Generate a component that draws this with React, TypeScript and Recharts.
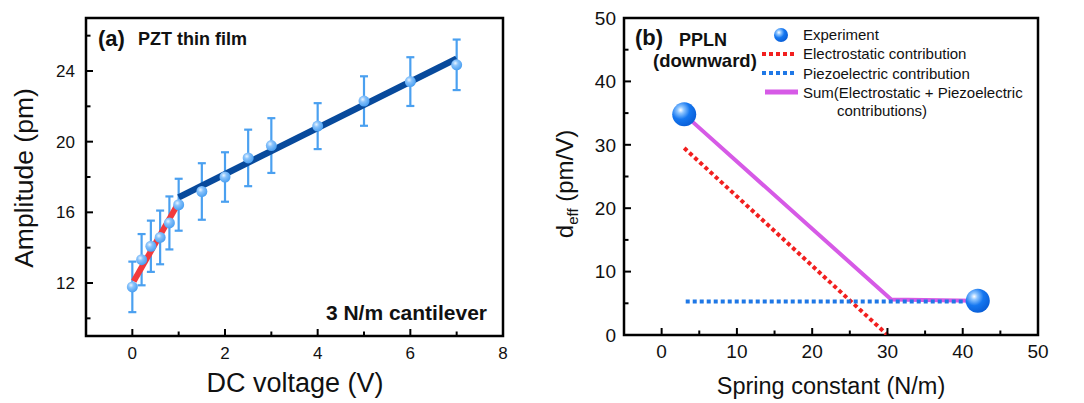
import React from 'react';
import {
  ComposedChart,
  XAxis,
  YAxis,
  Line,
  Scatter,
  ErrorBar,
  ReferenceArea,
  Legend,
} from 'recharts';

const FONT = '"Liberation Sans", Arial, Helvetica, sans-serif';

// ---------- Panel (a): PZT thin film ----------
const voltageV = [0, 0.2, 0.4, 0.6, 0.8, 1.0, 1.5, 2, 2.5, 3, 4, 5, 6, 7];
const amplitudePm = [11.78, 13.32, 14.08, 14.58, 15.4, 16.43, 17.18, 18.0, 19.08, 19.78, 20.88, 22.3, 23.4, 24.35];
const amplitudeErr = [1.43, 1.45, 1.45, 1.52, 1.5, 1.47, 1.6, 1.4, 1.6, 1.55, 1.3, 1.4, 1.38, 1.43];
const redFitV = [0.03, 1.0];
const redFitPm = [12.1, 16.55];
const blueFitV = [1.0, 7.0];
const blueFitPm = [16.85, 24.7];
const xTicksA = [0, 1, 2, 3, 4, 5, 6, 7, 8];
const yTicksA = [10, 12, 14, 16, 18, 20, 22, 24, 26];

// ---------- Panel (b): PPLN ----------
const expK = [3, 42];
const expDeff = [34.8, 5.4];
const elecK = [3, 30];
const elecDeff = [29.5, 0];
const piezoK = [3.2, 41.2];
const piezoDeff = [5.3, 5.3];
const sumK = [3, 30.5, 41.5];
const sumDeff = [34.8, 5.6, 5.4];
const xTicksB = [0, 5, 10, 15, 20, 25, 30, 35, 40, 45, 50];
const yTicksB = [0, 5, 10, 15, 20, 25, 30, 35, 40, 45, 50];

const ptsA = voltageV.map((x, i) => ({ x, y: amplitudePm[i], err: amplitudeErr[i] }));
const redA = redFitV.map((x, i) => ({ x, y: redFitPm[i] }));
const blueA = blueFitV.map((x, i) => ({ x, y: blueFitPm[i] }));
const expB = expK.map((x, i) => ({ x, y: expDeff[i] }));
const elecB = elecK.map((x, i) => ({ x, y: elecDeff[i] }));
const piezoB = piezoK.map((x, i) => ({ x, y: piezoDeff[i] }));
const sumB = sumK.map((x, i) => ({ x, y: sumDeff[i] }));

const makeXTick = (isMajor: (v: number) => boolean, fontSize: number, dy: number) => (props: any) => {
  const { x, y, payload } = props;
  const v = payload.value;
  const major = isMajor(v);
  return (
    <g>
      <line x1={x} x2={x} y1={y} y2={y - (major ? 7 : 4.5)} stroke="#000" strokeWidth={2} />
      {major && (
        <text x={x} y={y + dy} textAnchor="middle" fontSize={fontSize} fontFamily={FONT} fill="#111">
          {v}
        </text>
      )}
    </g>
  );
};

const makeYTick = (isMajor: (v: number) => boolean, fontSize: number, dx: number) => (props: any) => {
  const { x, y, payload } = props;
  const v = payload.value;
  const major = isMajor(v);
  return (
    <g>
      <line x1={x} x2={x + (major ? 7 : 4.5)} y1={y} y2={y} stroke="#000" strokeWidth={2} />
      {major && (
        <text x={x - dx} y={y} dy="0.36em" textAnchor="end" fontSize={fontSize} fontFamily={FONT} fill="#111">
          {v}
        </text>
      )}
    </g>
  );
};

const XTickA = makeXTick((v) => v % 2 === 0, 17, 23);
const YTickA = makeYTick((v) => v % 4 === 0, 17, 11);
const XTickB = makeXTick((v) => v % 10 === 0, 19, 23);
const YTickB = makeYTick((v) => v % 10 === 0, 19, 8);

const XTitleA = () => (
  <text x={295} y={392} textAnchor="middle" fontSize={27} fontFamily={FONT} fill="#111">
    DC voltage (V)
  </text>
);
const YTitleA = () => (
  <text x={33} y={178} transform="rotate(-90 33 178)" textAnchor="middle" fontSize={26.5} fontFamily={FONT} fill="#111">
    Amplitude (pm)
  </text>
);
const XTitleB = () => (
  <text x={291} y={394} textAnchor="middle" fontSize={23.5} fontFamily={FONT} fill="#111">
    Spring constant (N/m)
  </text>
);
const YTitleB = () => (
  <text x={33} y={184} transform="rotate(-90 33 184)" textAnchor="middle" fontSize={24} fontFamily={FONT} fill="#111">
    d<tspan fontSize={15} baselineShift="-30%">eff</tspan>
    <tspan> (pm/V)</tspan>
  </text>
);

const DotA = (props: any) => {
  const { cx, cy } = props;
  if (cx == null || cy == null) return null;
  return <circle cx={cx} cy={cy} r={5.5} fill="url(#gradA)" />;
};

const SphereB = (props: any) => {
  const { cx, cy } = props;
  if (cx == null || cy == null) return null;
  return <circle cx={cx} cy={cy} r={12} fill="url(#gradB)" />;
};

const LegendB = () => (
  <svg width={300} height={100} style={{ overflow: 'visible' }}>
    <defs>
      <radialGradient id="gradBLeg" cx="35%" cy="32%" r="70%">
        <stop offset="0%" stopColor="#ffffff" />
        <stop offset="22%" stopColor="#8cc4ff" />
        <stop offset="55%" stopColor="#1577f0" />
        <stop offset="100%" stopColor="#0a5fd8" />
      </radialGradient>
    </defs>
    <circle cx={21} cy={11} r={7} fill="url(#gradBLeg)" />
    <text x={43} y={16} fontSize={15} fontFamily={FONT} fill="#111">Experiment</text>
    <line x1={2} x2={37} y1={30} y2={30} stroke="#f21f1f" strokeWidth={4} strokeDasharray="4 3" />
    <text x={43} y={35} fontSize={15} fontFamily={FONT} fill="#111">Electrostatic contribution</text>
    <line x1={2} x2={37} y1={49} y2={49} stroke="#1f78e6" strokeWidth={4} strokeDasharray="4 3" />
    <text x={43} y={54.5} fontSize={15} fontFamily={FONT} fill="#111">Piezoelectric contribution</text>
    <line x1={5} x2={38} y1={68} y2={68} stroke="#d65ae6" strokeWidth={5} />
    <text x={43} y={73.5} fontSize={15} fontFamily={FONT} fill="#111">Sum(Electrostatic + Piezoelectric</text>
    <text x={122} y={92} textAnchor="middle" fontSize={15} fontFamily={FONT} fill="#111">contributions)</text>
  </svg>
);

export default function App() {
  return (
    <div style={{ position: 'absolute', left: 0, top: 0, width: 1084, height: 403, background: '#fff', overflow: 'hidden' }}>
      <div style={{ position: 'absolute', left: 0, top: 0 }}>
        <ComposedChart width={540} height={403} margin={{ top: 18, right: 37, bottom: 0, left: 0 }}>
          <defs>
            <radialGradient id="gradA" cx="38%" cy="35%" r="70%">
              <stop offset="0%" stopColor="#e8f4ff" />
              <stop offset="35%" stopColor="#88c2fb" />
              <stop offset="100%" stopColor="#449cf0" />
            </radialGradient>
          </defs>
          <XAxis
            dataKey="x"
            type="number"
            domain={[-1, 8]}
            ticks={xTicksA}
            interval={0}
            allowDataOverflow
            tickSize={0}
            tickMargin={0}
            axisLine={false}
            tickLine={false}
            height={67}
            tick={XTickA}
            label={<XTitleA />}
          />
          <YAxis
            dataKey="y"
            type="number"
            domain={[9, 27]}
            ticks={yTicksA}
            interval={0}
            allowDataOverflow
            tickSize={0}
            tickMargin={0}
            axisLine={false}
            tickLine={false}
            width={86}
            tick={YTickA}
            label={<YTitleA />}
          />
          <ReferenceArea x1={-1} x2={8} y1={9} y2={27} fill="none" fillOpacity={0} stroke="#000" strokeWidth={2.5} ifOverflow="visible" />
          <Scatter data={ptsA} dataKey="y" shape={<DotA />} isAnimationActive={false}>
            <ErrorBar dataKey="err" direction="y" width={4} stroke="#4aa0f0" strokeWidth={2.2} />
          </Scatter>
          <Line data={redA} dataKey="y" type="linear" stroke="#f23a3c" strokeWidth={6} dot={false} activeDot={false} isAnimationActive={false} />
          <Line data={blueA} dataKey="y" type="linear" stroke="#084a9c" strokeWidth={6.5} dot={false} activeDot={false} isAnimationActive={false} />
        </ComposedChart>
      </div>

      <div style={{ position: 'absolute', left: 540, top: 0 }}>
        <ComposedChart width={544} height={403} margin={{ top: 18, right: 46, bottom: 0, left: 0 }}>
          <defs>
            <radialGradient id="gradB" cx="35%" cy="32%" r="70%">
              <stop offset="0%" stopColor="#ffffff" />
              <stop offset="20%" stopColor="#8cc4ff" />
              <stop offset="55%" stopColor="#1577f0" />
              <stop offset="100%" stopColor="#0a5fd8" />
            </radialGradient>
          </defs>
          <XAxis
            dataKey="x"
            type="number"
            domain={[-5, 50]}
            ticks={xTicksB}
            interval={0}
            allowDataOverflow
            tickSize={0}
            tickMargin={0}
            axisLine={false}
            tickLine={false}
            height={68}
            tick={XTickB}
            label={<XTitleB />}
          />
          <YAxis
            dataKey="y"
            type="number"
            domain={[0, 50]}
            ticks={yTicksB}
            interval={0}
            allowDataOverflow
            tickSize={0}
            tickMargin={0}
            axisLine={false}
            tickLine={false}
            width={84}
            tick={YTickB}
            label={<YTitleB />}
          />
          <ReferenceArea x1={-5} x2={50} y1={0} y2={50} fill="none" fillOpacity={0} stroke="#000" strokeWidth={2.5} ifOverflow="visible" />
          <Line data={sumB} dataKey="y" type="linear" stroke="#d65ae6" strokeWidth={4} dot={false} activeDot={false} isAnimationActive={false} />
          <Line data={elecB} dataKey="y" type="linear" stroke="#f21f1f" strokeWidth={4} strokeDasharray="4 3" dot={false} activeDot={false} isAnimationActive={false} />
          <Line data={piezoB} dataKey="y" type="linear" stroke="#1f78e6" strokeWidth={4} strokeDasharray="4 3" dot={false} activeDot={false} isAnimationActive={false} />
          <Scatter data={expB} dataKey="y" shape={<SphereB />} isAnimationActive={false} />
          <Legend
            layout="horizontal"
            align="center"
            verticalAlign="middle"
            content={<LegendB />}
            wrapperStyle={{ position: 'absolute', left: 220, top: 24, width: 300, height: 100, margin: 0, padding: 0 }}
          />
        </ComposedChart>
      </div>

      <svg width={1084} height={403} style={{ position: 'absolute', left: 0, top: 0, pointerEvents: 'none' }}>
        <text x={98} y={46} fontSize={22} fontWeight="bold" fontFamily={FONT} fill="#111">(a)</text>
        <text x={138} y={45} fontSize={18} fontWeight="bold" fontFamily={FONT} fill="#111">PZT thin film</text>
        <text x={487} y={320} textAnchor="end" fontSize={21} fontWeight="bold" fontFamily={FONT} fill="#111">3 N/m cantilever</text>
        <text x={635} y={45} fontSize={22} fontWeight="bold" fontFamily={FONT} fill="#111">(b)</text>
        <text x={679} y={45.5} fontSize={18} fontWeight="bold" fontFamily={FONT} fill="#111">PPLN</text>
        <text x={653} y={67} fontSize={18.5} fontWeight="bold" fontFamily={FONT} fill="#111">(downward)</text>
      </svg>
    </div>
  );
}
